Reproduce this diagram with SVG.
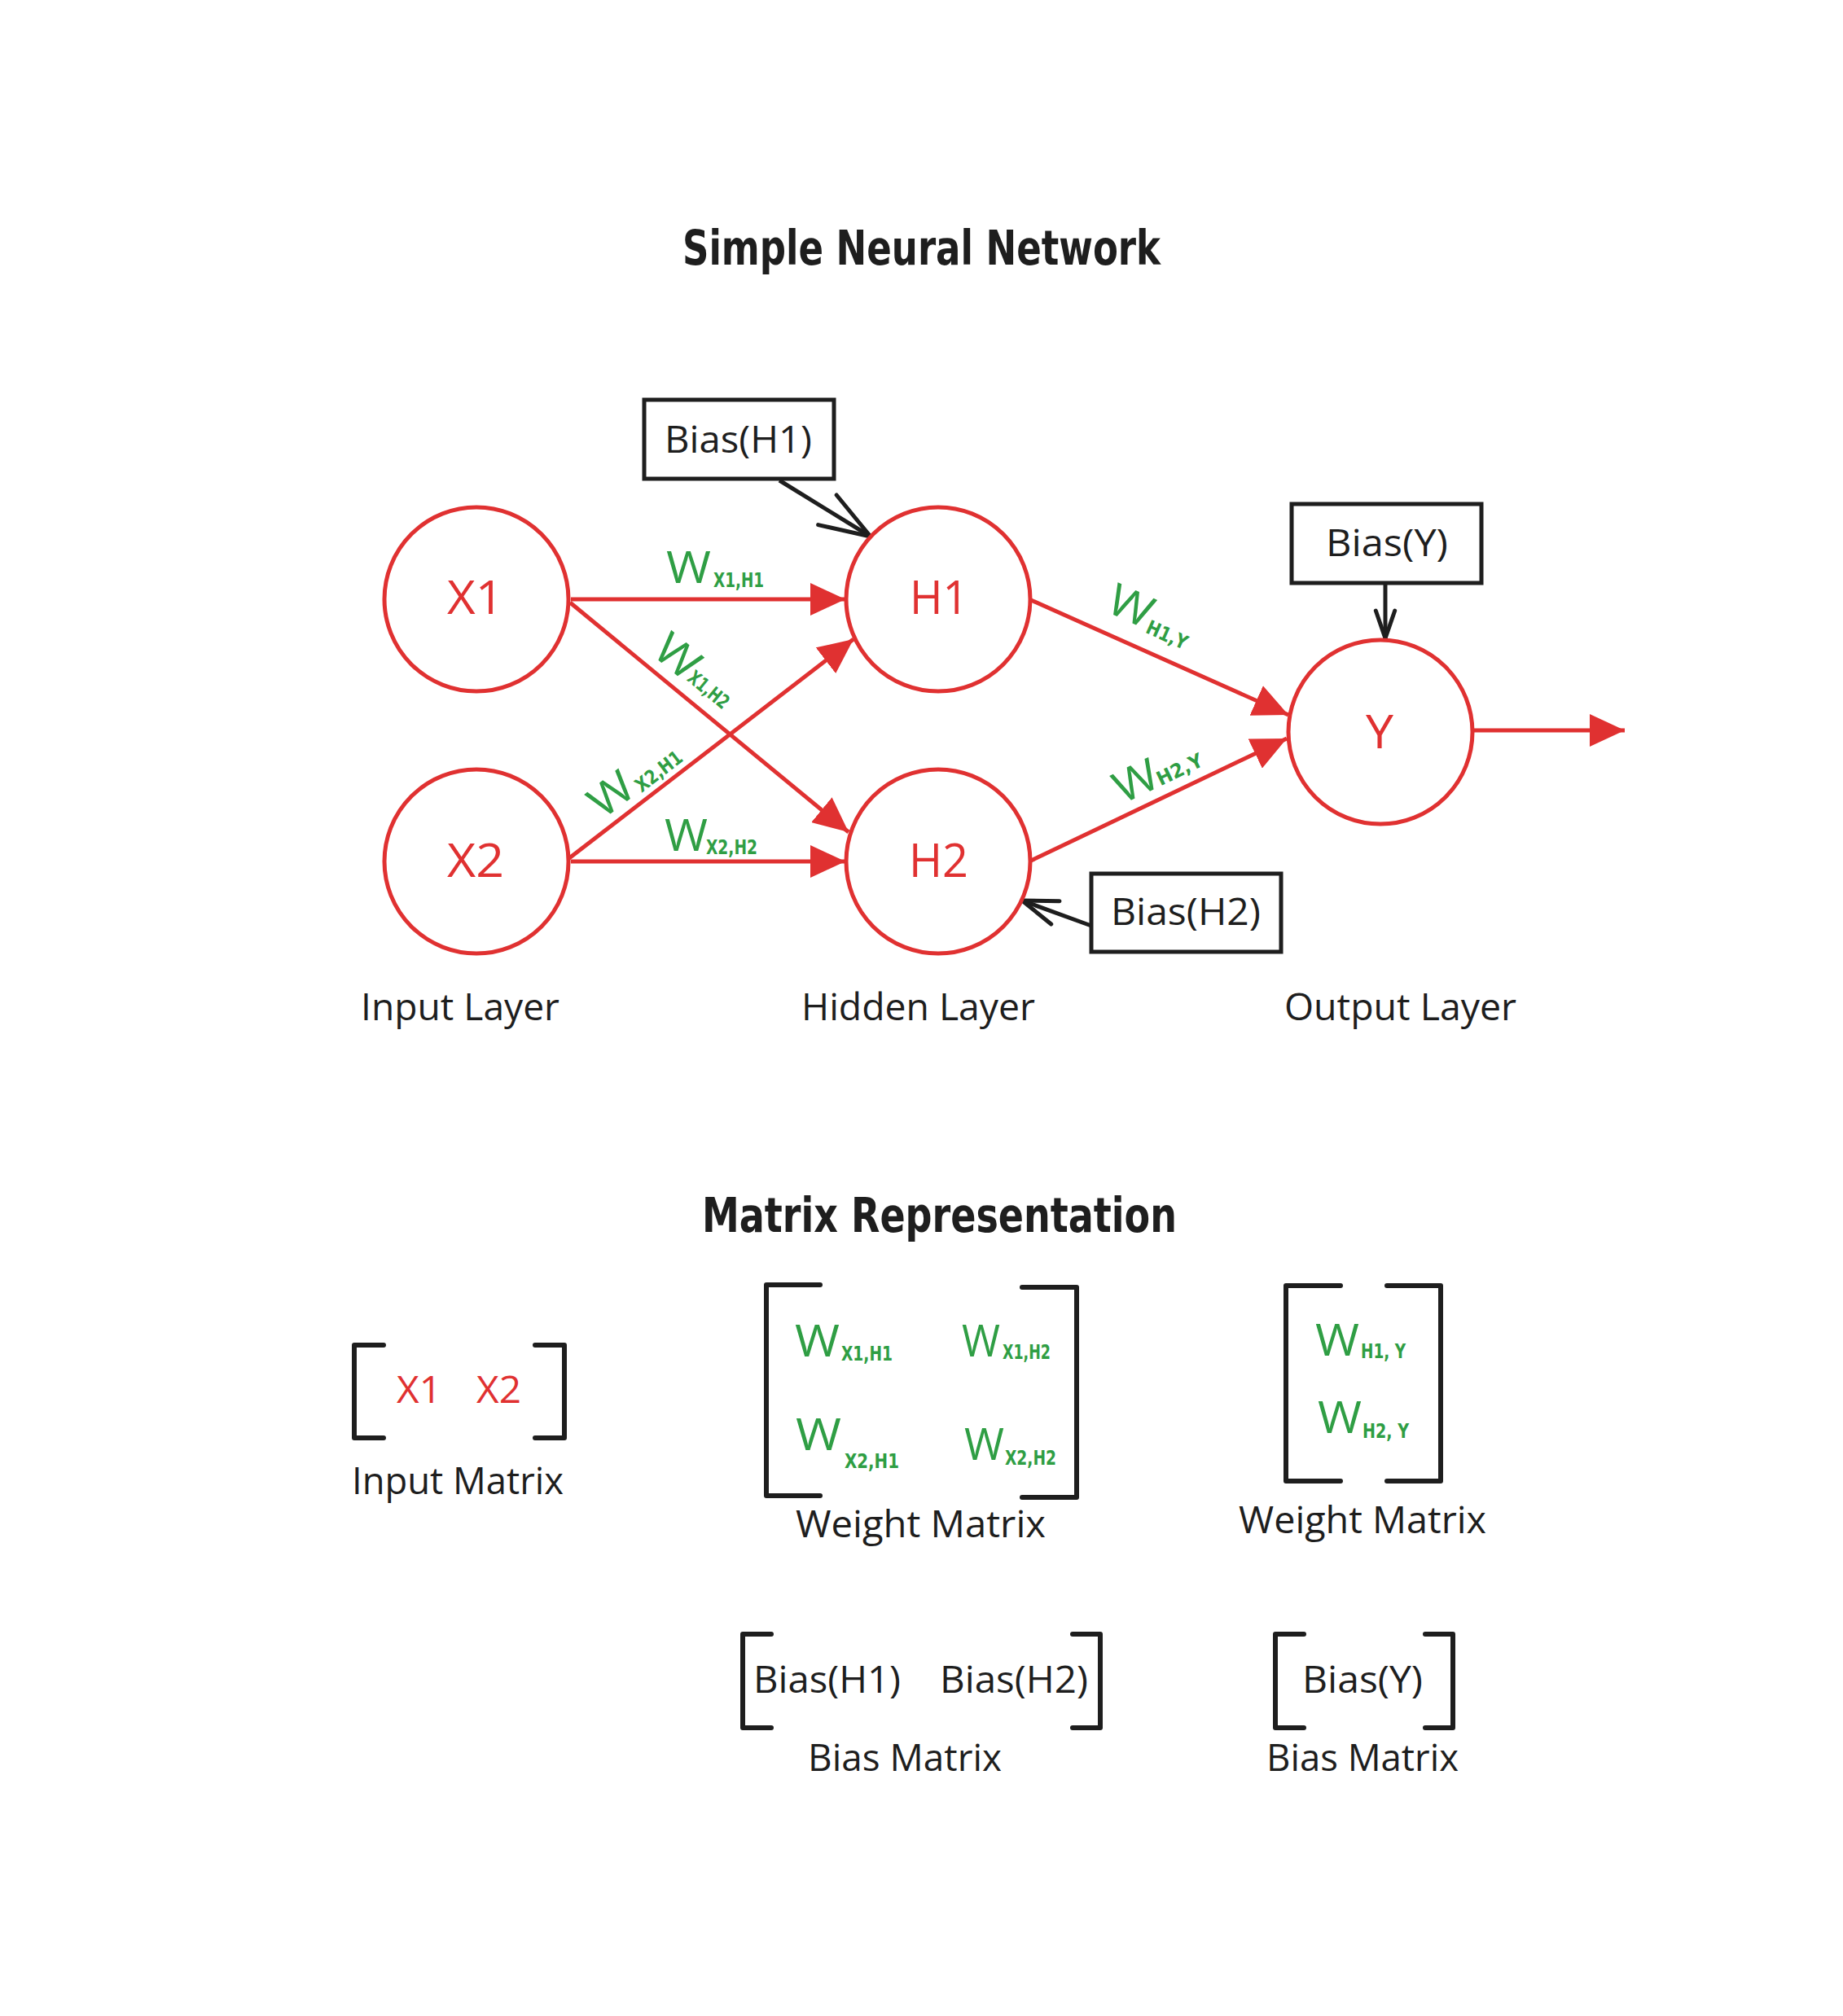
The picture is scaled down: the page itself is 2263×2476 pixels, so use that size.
<svg xmlns="http://www.w3.org/2000/svg" width="2263" height="2476" viewBox="0 0 2263 2476">
<style>
.bg{fill:#ffffff}
.node{fill:#ffffff;stroke:#e03131;stroke-width:5}
.box{fill:#ffffff;stroke:#1e1e1e;stroke-width:5}
.edge{fill:none;stroke:#e03131;stroke-width:5}
.bedge{fill:none;stroke:#1e1e1e;stroke-width:5}
.br{fill:none;stroke:#1e1e1e;stroke-width:6;stroke-linecap:round;stroke-linejoin:round}
.title{font-family:"DejaVu Sans Condensed","DejaVu Sans",sans-serif;font-weight:bold;font-stretch:condensed;font-size:58px;fill:#1e1e1e}
.nl{font-family:"Open Sans","Liberation Sans",sans-serif;font-size:56px;fill:#e03131}
.rt{font-family:"Open Sans","Liberation Sans",sans-serif;font-size:46px;fill:#e03131}
.lbl{font-family:"Open Sans","Liberation Sans",sans-serif;font-size:46px;fill:#1e1e1e}
.w{font-family:"Open Sans","Liberation Sans",sans-serif;font-weight:400;font-size:54px;fill:#2f9e44}
.sub{font-family:"DejaVu Sans Condensed","DejaVu Sans",sans-serif;font-weight:bold;font-stretch:condensed;font-size:24px;fill:#2f9e44}
</style>
<defs>
<marker id="redhead" markerUnits="userSpaceOnUse" viewBox="0 0 43 40" markerWidth="43" markerHeight="40" refX="43" refY="20" orient="auto">
<path d="M0,0 L43,20 L0,40 Z" fill="#e03131"/>
</marker>
<marker id="openL" markerUnits="userSpaceOnUse" viewBox="0 0 72 51" markerWidth="72" markerHeight="51" refX="66.4" refY="25.5" orient="auto" overflow="visible">
<path d="M4,4 L66.4,25.5 L4,47" fill="none" stroke="#1e1e1e" stroke-width="5" stroke-linecap="round" stroke-linejoin="round"/>
</marker>
<marker id="openM" markerUnits="userSpaceOnUse" viewBox="0 0 52 38" markerWidth="52" markerHeight="38" refX="47.5" refY="19" orient="auto" overflow="visible">
<path d="M4,4 L47.5,19 L4,34" fill="none" stroke="#1e1e1e" stroke-width="5" stroke-linecap="round" stroke-linejoin="round"/>
</marker>
<marker id="openS" markerUnits="userSpaceOnUse" viewBox="0 0 42 31" markerWidth="42" markerHeight="31" refX="38" refY="15.7" orient="auto" overflow="visible">
<path d="M4,4 L38,15.7 L4,27.4" fill="none" stroke="#1e1e1e" stroke-width="5" stroke-linecap="round" stroke-linejoin="round"/>
</marker>
</defs>
<rect class="bg" x="0" y="0" width="2263" height="2476"/>

<text class="title" x="838" y="325" textLength="587" lengthAdjust="spacingAndGlyphs">Simple Neural Network</text>

<g id="connectors">
<line class="edge" x1="701" y1="736" x2="1038" y2="736" marker-end="url(#redhead)"/>
<line class="edge" x1="700" y1="740" x2="1042" y2="1022" marker-end="url(#redhead)"/>
<line class="edge" x1="695" y1="1057" x2="1048" y2="785" marker-end="url(#redhead)"/>
<line class="edge" x1="701" y1="1058" x2="1038" y2="1058" marker-end="url(#redhead)"/>
<line class="edge" x1="1266" y1="737" x2="1582" y2="878" marker-end="url(#redhead)"/>
<line class="edge" x1="1266" y1="1057" x2="1580" y2="907" marker-end="url(#redhead)"/>
<line class="edge" x1="1810" y1="897" x2="1995" y2="897" marker-end="url(#redhead)"/>
<line class="bedge" x1="957" y1="590" x2="1069" y2="659" marker-end="url(#openL)"/>
<line class="bedge" x1="1701" y1="716" x2="1701" y2="784" marker-end="url(#openS)"/>
<line class="bedge" x1="1340" y1="1137" x2="1255" y2="1106" marker-end="url(#openM)"/>
</g>

<g id="edge-labels">
<g id="lbl-x1h1">
<text class="w" x="818" y="716" textLength="55" lengthAdjust="spacingAndGlyphs">W</text>
<text class="sub" x="876" y="721" textLength="62" lengthAdjust="spacingAndGlyphs">X1,H1</text>
</g>
<g id="lbl-x2h2">
<text class="w" x="816" y="1045" textLength="53" lengthAdjust="spacingAndGlyphs">W</text>
<text class="sub" x="867" y="1049" textLength="63" lengthAdjust="spacingAndGlyphs">X2,H2</text>
</g>
<g id="lbl-x1h2" transform="translate(799,803) rotate(39.5)">
<text class="w" x="0" y="0" textLength="55" lengthAdjust="spacingAndGlyphs">W</text>
<text class="sub" x="54" y="-3" textLength="58" lengthAdjust="spacingAndGlyphs">X1,H2</text>
</g>
<g id="lbl-x2h1" transform="translate(740,1007) rotate(-37.6)">
<text class="w" x="0" y="0" textLength="55" lengthAdjust="spacingAndGlyphs">W</text>
<text class="sub" x="58" y="3" textLength="66" lengthAdjust="spacingAndGlyphs">X2,H1</text>
</g>
<g id="lbl-h1y" transform="translate(1356,750) rotate(24.1)">
<text class="w" x="0" y="0" textLength="55" lengthAdjust="spacingAndGlyphs">W</text>
<text class="sub" x="56" y="4" textLength="53" lengthAdjust="spacingAndGlyphs">H1,Y</text>
</g>
<g id="lbl-h2y" transform="translate(1378,988) rotate(-25.6)">
<text class="w" x="0" y="0" textLength="55" lengthAdjust="spacingAndGlyphs">W</text>
<text class="sub" x="52" y="0" textLength="60" lengthAdjust="spacingAndGlyphs">H2,Y</text>
</g>
</g>

<g id="node-x1">
<circle class="node" cx="585" cy="736" r="113"/>
<text class="nl" x="549" y="754" textLength="69" lengthAdjust="spacingAndGlyphs">X1</text>
</g>
<g id="node-x2">
<circle class="node" cx="585" cy="1058" r="113"/>
<text class="nl" x="549" y="1077" textLength="70" lengthAdjust="spacingAndGlyphs">X2</text>
</g>
<g id="node-h1">
<circle class="node" cx="1152" cy="736" r="113"/>
<text class="nl" x="1117" y="754" textLength="72" lengthAdjust="spacingAndGlyphs">H1</text>
</g>
<g id="node-h2">
<circle class="node" cx="1152" cy="1058" r="113"/>
<text class="nl" x="1116" y="1077" textLength="73" lengthAdjust="spacingAndGlyphs">H2</text>
</g>
<g id="node-y">
<circle class="node" cx="1695" cy="899" r="113"/>
<text class="nl" x="1677" y="919" textLength="34" lengthAdjust="spacingAndGlyphs">Y</text>
</g>
<g id="node-bias-h1">
<rect class="box" x="791" y="491" width="233" height="97"/>
<text class="lbl" x="816" y="556" textLength="181" lengthAdjust="spacingAndGlyphs">Bias(H1)</text>
</g>
<g id="node-bias-y">
<rect class="box" x="1586" y="619" width="233" height="97"/>
<text class="lbl" x="1628" y="683" textLength="150" lengthAdjust="spacingAndGlyphs">Bias(Y)</text>
</g>
<g id="node-bias-h2">
<rect class="box" x="1340" y="1073" width="233" height="96"/>
<text class="lbl" x="1364" y="1136" textLength="184" lengthAdjust="spacingAndGlyphs">Bias(H2)</text>
</g>

<g id="layer-labels">
<text class="lbl" x="443" y="1253" textLength="244" lengthAdjust="spacingAndGlyphs">Input Layer</text>
<text class="lbl" x="984" y="1253" textLength="287" lengthAdjust="spacingAndGlyphs">Hidden Layer</text>
<text class="lbl" x="1577" y="1253" textLength="285" lengthAdjust="spacingAndGlyphs">Output Layer</text>
</g>

<text class="title" x="862" y="1513" textLength="583" lengthAdjust="spacingAndGlyphs">Matrix Representation</text>

<g id="input-matrix">
<path class="br" d="M471,1652 L435,1652 L435,1766 L471,1766"/>
<path class="br" d="M657,1652 L693,1652 L693,1766 L657,1766"/>
<text class="rt" x="487" y="1723" textLength="55" lengthAdjust="spacingAndGlyphs">X1</text>
<text class="rt" x="585" y="1723" textLength="55" lengthAdjust="spacingAndGlyphs">X2</text>
<text class="lbl" x="432" y="1835" textLength="260" lengthAdjust="spacingAndGlyphs">Input Matrix</text>
</g>

<g id="weight-matrix-1">
<path class="br" d="M1007,1578 L941,1578 L941,1837 L1007,1837"/>
<path class="br" d="M1255,1581 L1322,1581 L1322,1839 L1255,1839"/>
<text class="w" x="976" y="1666" textLength="55" lengthAdjust="spacingAndGlyphs">W</text>
<text class="sub" x="1033" y="1671" textLength="63" lengthAdjust="spacingAndGlyphs">X1,H1</text>
<text class="w" x="1181" y="1666" textLength="47" lengthAdjust="spacingAndGlyphs">W</text>
<text class="sub" x="1231" y="1669" textLength="59" lengthAdjust="spacingAndGlyphs">X1,H2</text>
<text class="w" x="977" y="1781" textLength="56" lengthAdjust="spacingAndGlyphs">W</text>
<text class="sub" x="1037" y="1803" textLength="67" lengthAdjust="spacingAndGlyphs">X2,H1</text>
<text class="w" x="1184" y="1793" textLength="49" lengthAdjust="spacingAndGlyphs">W</text>
<text class="sub" x="1234" y="1799" textLength="63" lengthAdjust="spacingAndGlyphs">X2,H2</text>
<text class="lbl" x="977" y="1888" textLength="307" lengthAdjust="spacingAndGlyphs">Weight Matrix</text>
</g>

<g id="weight-matrix-2">
<path class="br" d="M1646,1579 L1579,1579 L1579,1819 L1646,1819"/>
<path class="br" d="M1703,1579 L1769,1579 L1769,1819 L1703,1819"/>
<text class="w" x="1615" y="1665" textLength="54" lengthAdjust="spacingAndGlyphs">W</text>
<text class="sub" x="1671" y="1668" textLength="55" lengthAdjust="spacingAndGlyphs">H1, Y</text>
<text class="w" x="1618" y="1760" textLength="54" lengthAdjust="spacingAndGlyphs">W</text>
<text class="sub" x="1673" y="1766" textLength="57" lengthAdjust="spacingAndGlyphs">H2, Y</text>
<text class="lbl" x="1521" y="1883" textLength="304" lengthAdjust="spacingAndGlyphs">Weight Matrix</text>
</g>

<g id="bias-matrix-1">
<path class="br" d="M947,2007 L912,2007 L912,2122 L947,2122"/>
<path class="br" d="M1317,2007 L1351,2007 L1351,2122 L1317,2122"/>
<text class="lbl" x="925" y="2079" textLength="181" lengthAdjust="spacingAndGlyphs">Bias(H1)</text>
<text class="lbl" x="1154" y="2079" textLength="182" lengthAdjust="spacingAndGlyphs">Bias(H2)</text>
<text class="lbl" x="992" y="2175" textLength="238" lengthAdjust="spacingAndGlyphs">Bias Matrix</text>
</g>

<g id="bias-matrix-2">
<path class="br" d="M1601,2007 L1566,2007 L1566,2122 L1601,2122"/>
<path class="br" d="M1750,2007 L1784,2007 L1784,2122 L1750,2122"/>
<text class="lbl" x="1599" y="2079" textLength="148" lengthAdjust="spacingAndGlyphs">Bias(Y)</text>
<text class="lbl" x="1555" y="2175" textLength="236" lengthAdjust="spacingAndGlyphs">Bias Matrix</text>
</g>
</svg>
